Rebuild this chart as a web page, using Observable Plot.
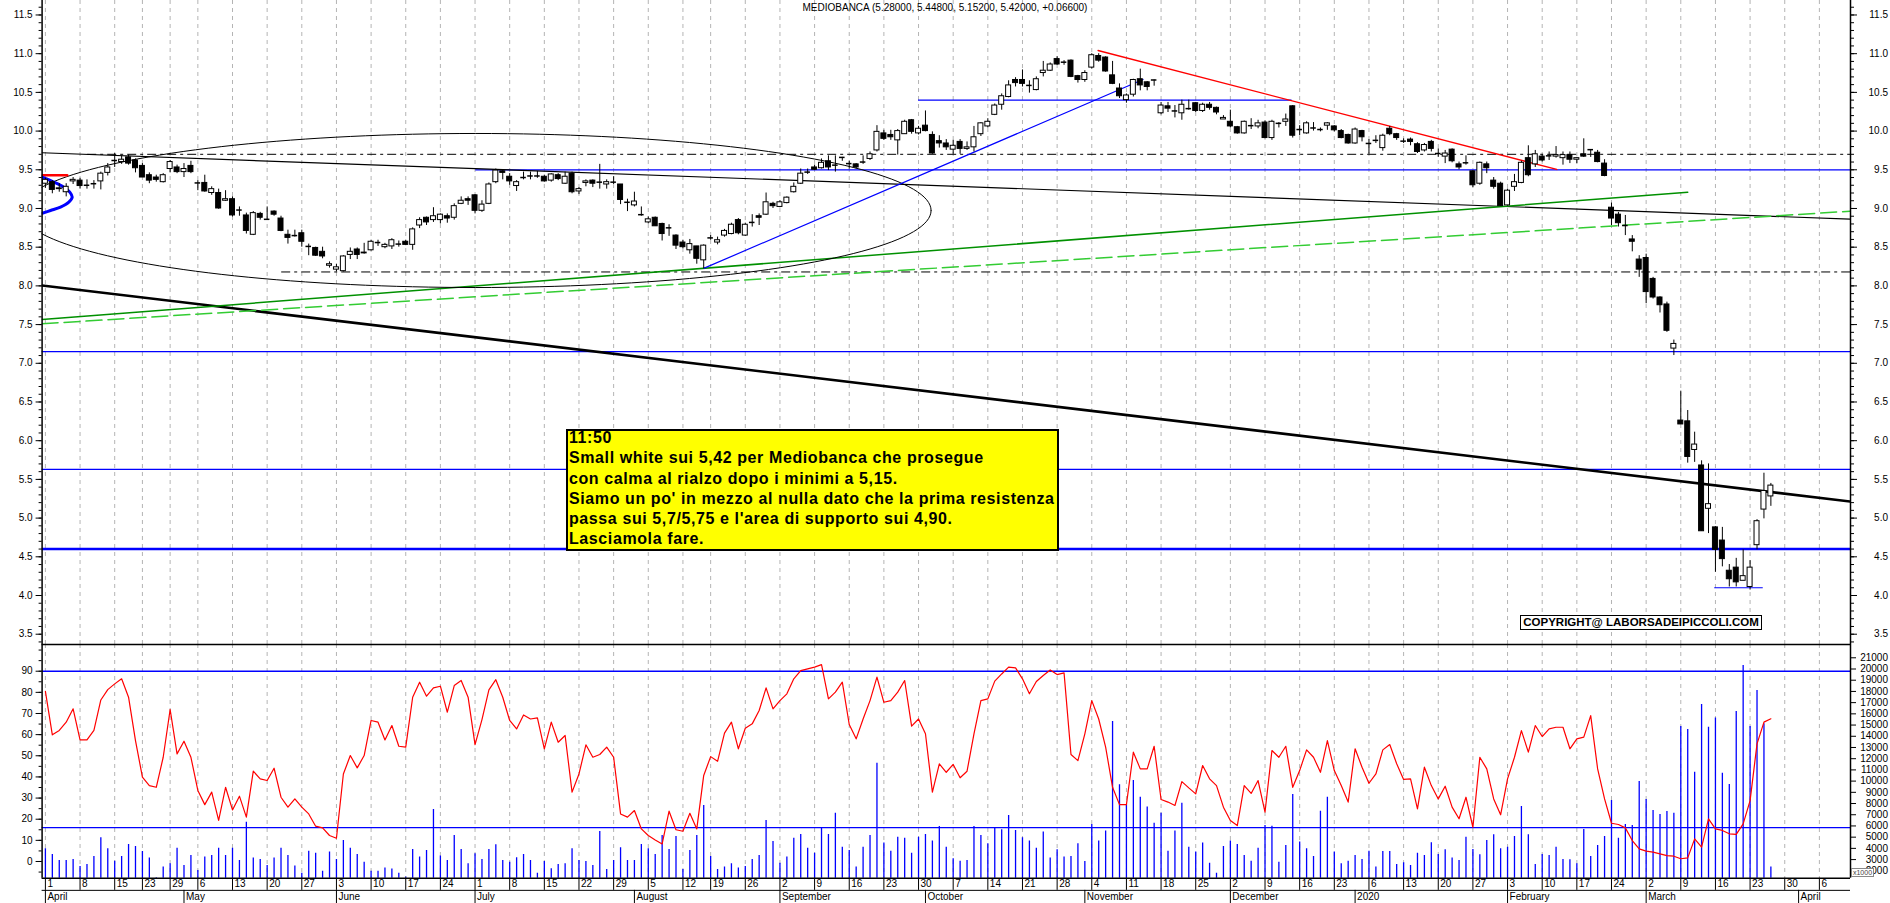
<!DOCTYPE html>
<html><head><meta charset="utf-8">
<script src="https://cdn.jsdelivr.net/npm/d3@7"></script>
<script src="https://cdn.jsdelivr.net/npm/@observablehq/plot@0.6"></script>
<style>
body{margin:0;background:#fff;}
#wrap{position:relative;width:1890px;height:903px;overflow:hidden;font-family:"Liberation Sans",Arial,sans-serif;background:#fff;}
#wrap svg{position:absolute;left:0;}
#title{position:absolute;left:0;top:2px;width:1890px;text-align:center;font-size:10px;color:#000;line-height:12px;}
#note{position:absolute;left:566px;top:429px;width:493px;height:122px;box-sizing:border-box;border:2px solid #000;background:#ffff00;font-weight:bold;font-size:16px;letter-spacing:0.6px;line-height:20.3px;padding-left:1px;white-space:pre;color:#000;}
#note div{margin-top:-3px;}
#copy{position:absolute;left:1520px;top:615px;width:242px;height:15px;box-sizing:border-box;border:1.5px solid #000;background:#fff;font-weight:bold;font-size:11.5px;line-height:12px;text-align:center;white-space:nowrap;color:#000;}
#x1000{position:absolute;left:1851px;top:868px;width:23px;height:9px;box-sizing:border-box;border:1px solid #888;background:#fff;font-size:7px;line-height:7px;text-align:center;color:#444;}
</style></head><body><div id="wrap"></div>
<script>
// ---------- DATA (trading-day index 0 = 1 April 2019) ----------
const OPEN=[9.32,9.34,9.26,9.21,9.35,9.36,9.30,9.32,9.35,9.46,
9.62,9.60,9.66,9.62,9.55,9.43,9.40,9.34,9.51,9.53,
9.47,9.55,9.33,9.33,9.20,9.20,9.10,9.12,8.98,8.91,
8.66,8.93,8.86,8.96,8.87,8.66,8.65,8.68,8.51,8.49,
8.44,8.26,8.21,8.19,8.40,8.47,8.42,8.46,8.56,8.50,
8.51,8.54,8.57,8.53,8.78,8.88,8.85,8.85,8.90,8.88,
9.06,9.12,9.17,8.97,9.06,9.34,9.48,9.41,9.29,9.40,
9.42,9.42,9.41,9.36,9.43,9.32,9.45,9.22,9.33,9.36,
9.34,9.31,9.34,9.31,9.08,9.04,8.92,8.82,8.88,8.80,
8.75,8.65,8.56,8.46,8.51,8.33,8.62,8.56,8.65,8.67,
8.85,8.65,8.82,8.90,8.92,9.06,9.02,9.07,9.21,9.32,
9.47,9.53,9.52,9.61,9.56,9.66,9.58,9.57,9.60,9.64,
9.75,9.97,9.95,9.88,9.96,10.14,9.97,10.07,9.95,9.87,
9.84,9.76,9.86,9.77,9.79,9.96,10.06,10.21,10.34,10.44,
10.66,10.66,10.59,10.53,10.75,10.78,10.93,10.89,10.91,10.71,
10.66,10.82,10.97,10.95,10.72,10.55,10.40,10.47,10.67,10.63,
10.66,10.23,10.32,10.26,10.23,10.29,10.36,10.26,10.34,10.30,
10.15,10.12,10.05,9.97,10.07,10.06,10.11,9.91,10.10,10.12,
10.32,10.02,9.97,10.04,10.02,10.07,10.06,10.00,9.95,9.84,
10.00,9.84,9.88,9.78,10.03,9.96,9.87,9.89,9.83,9.75,
9.86,9.71,9.67,9.76,9.57,9.59,9.48,9.32,9.57,9.36,
9.32,9.04,9.28,9.33,9.65,9.57,9.67,9.68,9.67,9.65,
9.69,9.63,9.70,9.76,9.72,9.58,9.01,8.92,8.78,8.60,
8.34,8.36,8.09,7.85,7.76,7.19,6.26,6.25,5.88,5.68,
5.12,4.88,4.71,4.32,4.36,4.19,4.11,4.65,5.11,5.28];
const HIGH=[9.39,9.36,9.32,9.32,9.40,9.39,9.37,9.36,9.47,9.58,
9.71,9.68,9.69,9.64,9.58,9.46,9.43,9.45,9.62,9.56,
9.58,9.61,9.36,9.43,9.28,9.25,9.23,9.15,9.02,8.94,
8.96,8.95,9.02,8.97,8.90,8.72,8.72,8.72,8.54,8.50,
8.50,8.31,8.28,8.39,8.49,8.49,8.55,8.59,8.59,8.55,
8.61,8.58,8.59,8.75,8.88,8.89,9.01,8.93,8.93,9.06,
9.15,9.15,9.18,9.10,9.33,9.51,9.49,9.45,9.36,9.47,
9.47,9.48,9.43,9.45,9.45,9.47,9.47,9.27,9.37,9.37,
9.57,9.37,9.41,9.31,9.12,9.21,9.02,8.89,8.89,8.81,
8.79,8.66,8.59,8.60,8.51,8.53,8.65,8.63,8.73,8.81,
8.87,8.81,8.92,8.93,9.20,9.08,9.10,9.15,9.33,9.51,
9.51,9.56,9.64,9.68,9.68,9.66,9.61,9.58,9.68,9.73,
10.07,10.01,10.01,10.02,10.14,10.15,10.06,10.26,9.99,9.94,
9.89,9.88,9.89,9.86,10.06,10.11,10.16,10.35,10.48,10.65,
10.69,10.79,10.65,10.70,10.90,10.88,10.96,10.91,10.92,10.72,
10.78,11.00,11.00,10.96,10.90,10.61,10.48,10.67,10.80,10.64,
10.66,10.37,10.37,10.33,10.40,10.40,10.37,10.36,10.37,10.31,
10.20,10.27,10.06,10.13,10.16,10.14,10.13,10.14,10.11,10.22,
10.33,10.07,10.12,10.11,10.04,10.11,10.07,10.02,9.96,10.04,
10.01,9.89,9.94,9.96,10.06,9.97,9.90,9.91,9.85,9.84,
9.88,9.77,9.75,9.77,9.60,9.68,9.49,9.60,9.60,9.40,
9.34,9.25,9.44,9.61,9.81,9.75,9.70,9.73,9.80,9.73,
9.73,9.66,9.90,9.76,9.75,9.63,9.07,8.95,8.91,8.65,
8.39,8.41,8.11,7.86,7.79,7.30,6.64,6.39,6.11,5.74,
5.70,4.89,4.88,4.40,4.48,4.59,4.45,4.98,5.58,5.448];
const LOW=[9.26,9.19,9.21,9.15,9.31,9.25,9.25,9.25,9.24,9.42,
9.53,9.57,9.56,9.46,9.40,9.32,9.34,9.33,9.46,9.45,
9.40,9.45,9.23,9.21,9.17,8.99,9.09,8.89,8.90,8.67,
8.65,8.85,8.85,8.90,8.70,8.54,8.63,8.50,8.39,8.38,
8.35,8.23,8.18,8.18,8.34,8.34,8.41,8.45,8.51,8.48,
8.47,8.50,8.52,8.46,8.74,8.78,8.82,8.80,8.81,8.85,
9.05,9.04,8.93,8.95,9.05,9.32,9.37,9.30,9.22,9.37,
9.37,9.39,9.34,9.34,9.36,9.31,9.19,9.18,9.28,9.27,
9.25,9.25,9.31,9.05,8.96,9.02,8.90,8.80,8.77,8.58,
8.64,8.47,8.48,8.41,8.28,8.22,8.59,8.53,8.63,8.66,
8.66,8.64,8.76,8.78,8.91,9.00,9.01,9.06,9.20,9.31,
9.44,9.49,9.51,9.49,9.47,9.61,9.51,9.51,9.57,9.62,
9.73,9.88,9.88,9.69,9.96,9.96,9.95,9.99,9.70,9.78,
9.75,9.70,9.70,9.75,9.73,9.93,10.04,10.20,10.27,10.43,
10.57,10.57,10.49,10.52,10.70,10.77,10.85,10.85,10.69,10.62,
10.63,10.80,10.89,10.76,10.60,10.42,10.36,10.44,10.52,10.52,
10.58,10.21,10.24,10.17,10.14,10.27,10.24,10.24,10.27,10.21,
10.15,10.04,9.96,9.96,10.02,10.03,9.90,9.88,10.04,10.06,
9.91,9.94,9.96,10.00,9.99,10.01,9.99,9.90,9.83,9.83,
9.86,9.70,9.84,9.74,9.94,9.88,9.84,9.81,9.71,9.73,
9.73,9.66,9.58,9.59,9.50,9.56,9.27,9.30,9.45,9.25,
9.03,9.03,9.22,9.32,9.41,9.53,9.60,9.62,9.65,9.56,
9.58,9.58,9.66,9.66,9.59,9.41,8.78,8.76,8.65,8.44,
8.11,7.77,7.83,7.65,7.40,7.10,6.21,5.71,5.72,4.83,
4.80,4.30,4.37,4.11,4.11,4.19,4.07,4.59,4.99,5.152];
const CLOSE=[9.37,9.24,9.25,9.28,9.37,9.29,9.30,9.32,9.45,9.53,
9.62,9.63,9.58,9.52,9.40,9.36,9.37,9.43,9.60,9.47,
9.51,9.47,9.33,9.22,9.25,9.00,9.12,8.91,8.98,8.71,
8.94,8.88,8.86,8.92,8.71,8.62,8.65,8.57,8.51,8.39,
8.38,8.28,8.24,8.38,8.44,8.40,8.43,8.57,8.56,8.53,
8.59,8.54,8.53,8.73,8.85,8.82,8.90,8.92,8.87,9.03,
9.10,9.10,8.97,9.05,9.31,9.49,9.46,9.35,9.34,9.40,
9.42,9.42,9.35,9.44,9.38,9.41,9.21,9.25,9.35,9.32,
9.34,9.34,9.34,9.11,9.08,9.09,8.92,8.86,8.77,8.67,
8.75,8.52,8.50,8.54,8.35,8.52,8.62,8.59,8.71,8.79,
8.68,8.79,8.82,8.88,9.08,9.03,9.08,9.14,9.28,9.45,
9.47,9.50,9.59,9.53,9.56,9.66,9.58,9.53,9.60,9.70,
9.99,9.90,9.92,10.00,10.12,9.99,10.03,10.00,9.71,9.84,
9.79,9.81,9.77,9.79,9.92,10.10,10.12,10.33,10.45,10.59,
10.62,10.61,10.59,10.67,10.78,10.86,10.86,10.89,10.70,10.66,
10.75,10.98,10.91,10.77,10.61,10.45,10.46,10.66,10.59,10.57,
10.66,10.33,10.29,10.26,10.34,10.29,10.26,10.34,10.30,10.24,
10.17,10.06,9.97,10.12,10.07,10.10,9.91,10.12,10.10,10.15,
9.94,10.02,10.10,10.04,10.02,10.10,10.01,9.91,9.84,10.02,
9.92,9.84,9.88,9.94,9.96,9.91,9.87,9.86,9.73,9.82,
9.77,9.71,9.71,9.61,9.53,9.59,9.30,9.59,9.52,9.28,
9.03,9.23,9.34,9.59,9.43,9.70,9.62,9.68,9.69,9.69,
9.63,9.65,9.67,9.76,9.60,9.42,8.87,8.81,8.78,8.57,
8.21,7.92,7.85,7.75,7.42,7.25,6.21,5.79,5.95,4.83,
5.18,4.59,4.47,4.21,4.17,4.25,4.36,4.96,5.35,5.42];
const OSC=[80.5,59.9,62,65.9,72.2,57.5,57.5,62,76.4,81.3,
84,86.4,77.7,57.2,39.9,35.9,35.1,49.3,71.9,50.9,
56.9,49.3,33.6,26.9,32.8,19.4,35.1,24.4,30.9,21,
42.7,39.1,38.3,44.1,30.4,25.7,29.6,25.7,22.5,16.7,
15.9,12.3,11,41.4,50.1,44.3,50.1,66.7,65.9,57.5,
64.3,54.5,54.1,77.7,84.8,78.2,82.1,82.9,70.6,83.2,
85.6,77.7,55.3,67.1,81.2,86,77.7,66.7,62.7,69.3,
67.4,67.9,53.3,65.9,56.4,59.6,32.8,41.4,55.2,49.3,
50.6,54.1,49.3,22.5,21,24.1,15.4,12.3,10.2,8.3,
23.8,15,14.3,22.8,15.4,40.7,49.6,47.4,60.7,65.9,
53.3,63,65.1,71.4,82.1,72.2,76.1,79.3,86.4,90.3,
91.1,91.9,93.1,76.9,80.1,84.8,64.8,58,67.4,76.1,
87.2,75.3,76.1,80.1,85.6,64,67.4,60.4,32.8,46.2,
42.2,45.9,39.6,42.7,60.4,76.1,76.9,85.3,88.7,91.9,
91.6,86.4,79.3,85.1,88,90.6,88.4,89.2,50.6,47.7,
60.4,76.1,67.4,54.1,35.1,26.9,26.9,51.7,43.8,43.8,
54.5,29.3,28.1,26.5,37.8,34.8,32,45.4,39.1,35.9,
25.7,19.4,17,35.9,32.2,38.3,23.3,52.5,49.3,54.5,
35.1,43,52.8,49.3,42.2,57.2,43,35.9,28.1,53.3,
44.6,37,41.4,52.8,55.3,46.2,38.8,39.1,24.9,44.6,
35.9,29.6,35.6,25.7,20.2,30.4,16.2,49.3,43.8,29.6,
22.1,39.1,49.3,61.9,51.7,64.3,59.1,62.7,63.5,63.5,
53.3,58,58.8,69,43.8,29.6,18.1,17.5,15.9,9.9,
6,4.9,4.4,3.6,2.8,2.5,1.3,1.7,10.7,6.8,
20.2,15.4,14.7,13.1,12.8,17.8,28.8,55.6,65.9,67.5];
const VOL=[3960,3460,2920,2920,3010,2390,2560,3280,4940,3960,
2860,3280,4350,4170,3720,3130,1380,2330,2620,4020,
2480,3370,2030,3220,3370,4020,3370,4020,2920,6340,
3130,3010,2480,3130,4020,3370,2420,1790,3750,3570,
1970,3670,3010,4700,4020,3460,2770,1970,1970,2240,
2150,1790,1440,3900,3220,3810,7470,3310,2920,5150,
3900,2620,3520,3010,3900,4320,2920,2770,3160,3460,
2920,1790,2830,2180,2560,2620,3960,2920,2830,2480,
5510,2120,2920,4050,2920,2920,4350,3960,3460,5150,
3900,5060,2120,3810,5150,7830,3280,2120,2330,2620,
2240,2390,3010,3370,6490,4620,2680,3220,4910,5240,
4020,3570,5800,5240,7140,4110,3810,2330,4110,5150,
11600,4470,3750,5000,4910,3570,5000,5240,4650,5950,
4110,3070,2860,2920,5950,5150,4410,5830,5660,6930,
5600,4940,4650,4020,5450,3130,3870,3220,3280,4410,
2830,6130,4650,5540,15320,9670,7920,10060,8570,7680,
6250,7140,3750,5540,8030,4110,3670,4470,2680,1790,
4170,4650,4350,3370,2860,4020,6040,5980,2770,4260,
8810,4560,3960,3280,7320,8570,3670,2620,2860,3370,
3010,3750,2330,3720,3720,2560,2710,2480,3570,3370,
4500,3460,3870,3130,2920,5000,3900,3430,4700,5210,
3960,4110,5060,7740,5210,2560,3460,3370,4110,3010,
2980,2620,5690,3280,4260,5060,8270,4910,6130,6040,
9970,8360,7380,7020,7290,7140,14870,14600,10800,16830,
14810,15620,10710,9700,16210,20310,14870,18080,15110,2330];

const weekTickIdx=[0,5,10,14,18,22,27,32,37,42,47,52,57,62,67,72,77,82,87,92,96,101,106,111,116,121,126,131,136,141,146,151,156,161,166,171,176,181,186,191,196,201,206,211,216,221,226,231,236,241,246,251,256];
const weekTickLabels=["1","8","15","23","29","6","13","20","27","3","10","17","24","1","8","15","22","29","5","12","19","26","2","9","16","23","30","7","14","21","28","4","11","18","25","2","9","16","23","6","13","20","27","3","10","17","24","2","9","16","23","30","6"];
const monthIdx=[0,20,42,62,85,106,127,150,171,189,211,231,253];
const monthLabels=["April","May","June","July","August","September","October","November","December","2020","February","March","April"];

const priceTicks=[3.5,4,4.5,5,5.5,6,6.5,7,7.5,8,8.5,9,9.5,10,10.5,11,11.5];
const oscTicks=[0,10,20,30,40,50,60,70,80,90];
const volTicks=[2000,3000,4000,5000,6000,7000,8000,9000,10000,11000,12000,13000,14000,15000,16000,17000,18000,19000,20000,21000];
const oscLevels=[90,16];

// drawn studies, in (trading-day index, price)
const redShort=[[-0.45,9.43],[3.15,9.43]];
const blueArc=[[-0.46,9.404],[1.22,9.34],[2.66,9.275],[3.52,9.211],[3.87,9.146],[3.38,9.081],[2.18,9.017],[0.74,8.974],[-0.46,8.939]];
const thinBlackTrend=[[-0.48,9.72],[260.5,8.862]];
const thickBlackTrend=[[-0.48,8.005],[260.5,5.214]];
const greenSolid=[[-0.48,7.566],[237,9.211]];
const greenDashed=[[-0.48,7.51],[260.5,8.965]];
const blueRise=[[95.07,8.229],[158.4,10.667]];
const redFall=[[151.9,11.041],[218.1,9.504]];
const blueFullLevels=[7.15,5.63];
const blueThickLevel=[4.6];
const bluePartial=[{v:9.5,i1:62.1,i2:260.5},{v:10.40,i1:126,i2:179.9},{v:4.10,i1:240.9,i2:247.9}];
const dashDotLevels=[{v:9.70,i1:6.1,i2:260.5},{v:8.18,i1:34.1,i2:260.5}];
const ellipseStudy={ci:62.11,cv:8.974,ri:65.7,rv:0.995};

// ---------- BUILD ----------
const X0=-0.4765, X1=260.49;
const FONT="'Liberation Sans', Arial, sans-serif";
const ML=41.6, MR=40;
const HALF=0.36;
const candles=OPEN.map((o,i)=>({i,o,h:HIGH[i],l:LOW[i],c:CLOSE[i]}));
const ups=candles.filter(d=>d.c>d.o), downs=candles.filter(d=>d.c<d.o), dojis=candles.filter(d=>d.c===d.o);
const seg=p=>p.map(([i,v])=>({i,v}));
const ellPts=d3.range(0,361,2).map(t=>{const a=t*Math.PI/180;return {i:ellipseStudy.ci+ellipseStudy.ri*Math.cos(a),v:ellipseStudy.cv+ellipseStudy.rv*Math.sin(a)};});
const style={fontFamily:FONT,fontSize:"10px",color:"black",background:"transparent",overflow:"hidden"};
const grid=()=>Plot.ruleX(weekTickIdx,{stroke:"#b4b4b4",strokeDasharray:"4,4"});
const BLUE="#0000ff";

const price=Plot.plot({
  width:1890,height:644,marginLeft:ML,marginRight:MR,marginTop:0,marginBottom:0,
  x:{domain:[X0,X1],axis:null},y:{domain:[3.367,11.687],axis:null},style,
  marks:[
    grid(),
    Plot.ruleY(blueFullLevels,{stroke:BLUE,strokeWidth:1.2}),
    Plot.ruleY(blueThickLevel,{stroke:BLUE,strokeWidth:2.6}),
    Plot.ruleY(bluePartial,{y:"v",x1:"i1",x2:"i2",stroke:BLUE,strokeWidth:1.2}),
    Plot.ruleY(dashDotLevels,{y:"v",x1:"i1",x2:"i2",stroke:"black",strokeWidth:1,strokeDasharray:"9,4,3,4"}),
    Plot.line(seg(thinBlackTrend),{x:"i",y:"v",stroke:"black",strokeWidth:1.2,clip:true}),
    Plot.line(seg(thickBlackTrend),{x:"i",y:"v",stroke:"black",strokeWidth:2.6,clip:true}),
    Plot.line(seg(greenSolid),{x:"i",y:"v",stroke:"#009000",strokeWidth:1.5,clip:true}),
    Plot.line(seg(greenDashed),{x:"i",y:"v",stroke:"#33cc33",strokeWidth:1.5,strokeDasharray:"16,6",clip:true}),
    Plot.line(ellPts,{x:"i",y:"v",stroke:"black",strokeWidth:1,clip:true}),
    Plot.line(seg(blueRise),{x:"i",y:"v",stroke:BLUE,strokeWidth:1.2}),
    Plot.line(seg(redFall),{x:"i",y:"v",stroke:"#ff0000",strokeWidth:1.3}),
    Plot.line(seg(redShort),{x:"i",y:"v",stroke:"#ff0000",strokeWidth:2.5,clip:true}),
    Plot.line(seg(blueArc),{x:"i",y:"v",stroke:BLUE,strokeWidth:3,curve:"catmull-rom",clip:true}),
    Plot.ruleX(candles,{x:"i",y1:"l",y2:"h",stroke:"black",strokeWidth:1}),
    Plot.rect(downs,{x1:d=>d.i-HALF,x2:d=>d.i+HALF,y1:"o",y2:"c",fill:"black",stroke:"black",strokeWidth:1}),
    Plot.rect(ups,{x1:d=>d.i-HALF,x2:d=>d.i+HALF,y1:"o",y2:"c",fill:"white",stroke:"black",strokeWidth:1}),
    Plot.ruleY(dojis,{y:"c",x1:d=>d.i-0.4,x2:d=>d.i+0.4,stroke:"black",strokeWidth:1.5}),
    Plot.ruleX([X0,X1],{stroke:"black",strokeWidth:1.5}),
    Plot.axisY({anchor:"left",ticks:d3.range(3.4,11.65,0.1),tickSize:3,tickFormat:()=>"",label:null}),
    Plot.axisY({anchor:"left",ticks:priceTicks,tickSize:6,tickPadding:3.5,tickFormat:d=>d.toFixed(1),label:null,fontSize:10}),
    Plot.axisY({anchor:"right",ticks:d3.range(3.4,11.65,0.1),tickSize:3,tickFormat:()=>"",label:null}),
    Plot.axisY({anchor:"right",ticks:priceTicks,tickSize:6,tickPadding:31.5,textAnchor:"end",tickFormat:d=>d.toFixed(1),label:null,fontSize:10})
  ]
});
price.style.top="0px";

const vol=Plot.plot({
  width:1890,height:261,marginLeft:ML,marginRight:MR,marginTop:2,marginBottom:25.3,
  x:{domain:[X0,X1],axis:null},y:{domain:[1339,22186],axis:null},style,
  marks:[
    grid(),
    Plot.ruleX(VOL.map((v,i)=>({i,v})),{x:"i",y1:0,y2:"v",stroke:BLUE,strokeWidth:1.3,clip:true}),
    Plot.axisY({anchor:"right",ticks:volTicks,tickSize:5,tickPadding:32.5,textAnchor:"end",tickFormat:d3.format("d"),label:null,fontSize:10})
  ]
});
vol.style.top="642px";

const osc=Plot.plot({
  width:1890,height:261,marginLeft:ML,marginRight:MR,marginTop:2,marginBottom:25.3,
  x:{domain:[X0,X1],axis:null},y:{domain:[-7.9,102.63],axis:null},style,
  marks:[
    Plot.ruleY(oscLevels,{stroke:BLUE,strokeWidth:1.4}),
    Plot.line(OSC.map((v,i)=>({i,v})),{x:"i",y:"v",stroke:"#ff0000",strokeWidth:1.2}),
    Plot.ruleY([102.63],{stroke:"black",strokeWidth:1.5}),
    Plot.ruleX([X0,X1],{stroke:"black",strokeWidth:1.5}),
    Plot.axisY({anchor:"left",ticks:d3.range(-5,101,5),tickSize:3,tickFormat:()=>"",label:null}),
    Plot.axisY({anchor:"left",ticks:oscTicks,tickSize:6,tickPadding:3.5,label:null,fontSize:10})
  ]
});
osc.style.top="642px";

const strip=Plot.plot({
  width:1890,height:27,marginLeft:ML,marginRight:MR,marginTop:0,marginBottom:0,
  x:{domain:[X0,X1],axis:null},y:{domain:[0,2],range:[1.7,26],axis:null},style,
  marks:[
    Plot.ruleY([0],{stroke:"black",strokeWidth:1.5}),
    Plot.ruleY([1],{stroke:"black",strokeWidth:1}),
    Plot.ruleX(weekTickIdx,{y1:0,y2:1,stroke:"black"}),
    Plot.ruleX(monthIdx,{y1:1,y2:2.2,stroke:"black"}),
    Plot.text(weekTickIdx,{x:d=>d,y:0.5,text:(d,i)=>weekTickLabels[i],textAnchor:"start",dx:2,fontSize:10,fill:"black"}),
    Plot.text(monthIdx,{x:d=>d,y:1.5,text:(d,i)=>monthLabels[i],textAnchor:"start",dx:2,fontSize:10,fill:"black"})
  ]
});
strip.style.top="876px";

const wrap=document.getElementById("wrap");
[price,vol,osc,strip].forEach(s=>wrap.appendChild(s));

const title=document.createElement("div");title.id="title";
title.textContent="MEDIOBANCA (5.28000, 5.44800, 5.15200, 5.42000, +0.06600)";
wrap.appendChild(title);

const note=document.createElement("div");note.id="note";
const inner=document.createElement("div");
inner.textContent="11:50\nSmall white sui 5,42 per Mediobanca che prosegue\ncon calma al rialzo dopo i minimi a 5,15.\nSiamo un po' in mezzo al nulla dato che la prima resistenza\npassa sui 5,7/5,75 e l'area di supporto sui 4,90.\nLasciamola fare.";
note.appendChild(inner);wrap.appendChild(note);

const copy=document.createElement("div");copy.id="copy";
copy.textContent="COPYRIGHT@ LABORSADEIPICCOLI.COM";wrap.appendChild(copy);

const xk=document.createElement("div");xk.id="x1000";xk.textContent="x1000";wrap.appendChild(xk);
</script></body></html>
